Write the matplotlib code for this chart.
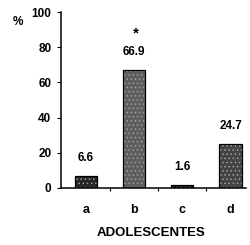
import matplotlib
matplotlib.use('Agg')
import matplotlib.pyplot as plt
import numpy as np

# data
categories = ['a', 'b', 'c', 'd']
values = [6.6, 66.9, 1.6, 24.7]
value_labels = ['6.6', '66.9', '1.6', '24.7']
colors = ['#262626', '#5e5e5e', '#1a1a1a', '#444444']
yticks = [0, 20, 40, 60, 80, 100]

plt.rcParams['font.family'] = 'Liberation Sans'
plt.rcParams['font.weight'] = 'bold'
plt.rcParams['hatch.linewidth'] = 0.6

fig = plt.figure(figsize=(2.5, 2.45), dpi=100)
ax = fig.add_axes([0.244, 0.233, 0.74, 0.718])

x = np.arange(len(categories))
bars = ax.bar(x, values, width=0.46, color=colors, edgecolor='black', linewidth=0.9, hatch='....')
for b in bars:
    b._hatch_color = (0.62, 0.62, 0.62, 1)

for xi, v, lab in zip(x, values, value_labels):
    ax.text(xi, v + 7, lab, ha='center', va='bottom', fontsize=8.5, fontweight='bold')
ax.text(1.05, 88, '*', ha='center', va='center', fontsize=11, fontweight='bold')

ax.set_xlim(-0.51, 3.32)
ax.set_ylim(0, 100)
ax.set_yticks(yticks)
ax.set_yticklabels([str(t) for t in yticks], fontsize=8.5, fontweight='bold')
ax.set_xticks([0.5, 1.5, 2.5])
ax.set_xticklabels(['', '', ''])
ax.tick_params(axis='x', direction='out', length=2, width=0.8)
ax.tick_params(axis='y', direction='out', length=3, width=0.8, pad=4)

for xi, c in zip(x, categories):
    ax.text(xi, -12.5, c, ha='center', va='center', fontsize=9, fontweight='bold')
ax.text(1.35, -25.5, 'ADOLESCENTES', ha='center', va='center', fontsize=9.5, fontweight='bold')

fig.text(0.05, 0.91, '%', ha='left', va='center', fontsize=8.5, fontweight='bold')

ax.spines['top'].set_visible(False)
ax.spines['right'].set_visible(False)
ax.spines['left'].set_linewidth(1.1)
ax.spines['bottom'].set_linewidth(1.1)

fig.savefig('out.png', dpi=100)
